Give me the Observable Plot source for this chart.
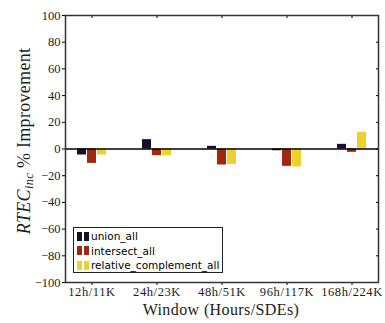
<!DOCTYPE html>
<html>
<head>
<meta charset="utf-8">
<script src="https://cdn.jsdelivr.net/npm/d3@7"></script>
<script src="https://cdn.jsdelivr.net/npm/@observablehq/plot@0.6"></script>
<style>
  html, body { margin: 0; padding: 0; background: #fff; }
  #chart { position: relative; width: 385px; height: 323px; }
  #chart svg, #chart svg text { font-family: "Liberation Serif", serif !important; }
  #chart svg text { fill: #1c1c1c; }
  #chart svg g[aria-label="x-axis tick label"] text { letter-spacing: 0.6px; }
  #legend {
    position: absolute; left: 73px; top: 227px; width: 150px; height: 46px;
    border: 1px solid #222; background: #fff; box-sizing: border-box;
    font: 10.5px "DejaVu Sans", sans-serif; color: #000; padding: 1px 0 0 3px;
  }
  #legend .row { display: flex; align-items: center; height: 14.5px; }
  #legend .sw { width: 5px; height: 9px; margin-right: 2px; }
</style>
</head>
<body>
<div id="chart"></div>
<script>
// Window sizes (hours / SDEs)
const windows = ["12h/11K", "24h/23K", "48h/51K", "96h/117K", "168h/224K"];
// Strategies compared
const series = ["union_all", "intersect_all", "relative_complement_all"];
// % improvement of RTEC_inc per window
const unionAll = [-4.5, 7, 2, -1.3, 3.5];
const intersectAll = [-10.8, -5, -12, -13, -2.5];
const relComplementAll = [-4.5, -5, -11.5, -13.5, 12.5];
const yTicks = [-100, -80, -60, -40, -20, 0, 20, 40, 60, 80, 100];

const colors = ["#15102e", "#a1280f", "#eed12d"];
const valuesBySeries = [unionAll, intersectAll, relComplementAll];

const data = series.flatMap((s, si) =>
  windows.map((w, wi) => ({window: w, series: s, value: valuesBySeries[si][wi]}))
);

// Side-by-side placement of the three bars within each window
const offsets = [-10, 0, 10];
const fmt = d => d < 0 ? "\u2212" + Math.abs(d) : String(d);

const plot = Plot.plot({
  width: 385,
  height: 323,
  marginLeft: 65,
  marginRight: 7,
  marginTop: 15,
  marginBottom: 41,
  style: {fontSize: "12.5px", color: "#000", background: "#fff"},
  x: {type: "band", domain: windows, paddingInner: 0.855, paddingOuter: 0.31, label: null},
  y: {domain: [-100, 100], ticks: yTicks, label: null},
  color: {domain: series, range: colors},
  marks: [
    ...series.map((s, i) =>
      Plot.barY(data.filter(d => d.series === s), {
        x: "window", y: "value", fill: colors[i], dx: offsets[i]
      })
    ),
    Plot.ruleY([0], {stroke: "#000", strokeWidth: 1.5}),
    Plot.axisX({tickSize: 3, tickPadding: 2, fontSize: 12.5, label: null}),
    Plot.axisY({ticks: yTicks, tickSize: 3, tickPadding: 2, tickFormat: fmt, fontSize: 12.5, label: null}),
    Plot.axisX({anchor: "top", tickSize: -2, tickFormat: () => "", label: null}),
    Plot.axisY({anchor: "right", ticks: yTicks, tickSize: -3, tickFormat: () => "", label: null}),
    Plot.frame({stroke: "#333", strokeWidth: 1.5})
  ]
});

document.getElementById("chart").appendChild(plot);

// Axis titles
const svg = d3.select(plot);
svg.append("text")
  .attr("x", 221).attr("y", 315)
  .attr("text-anchor", "middle")
  .style("font-size", "16px")
  .style("letter-spacing", "0.4px")
  .text("Window (Hours/SDEs)");

const yl = svg.append("text")
  .attr("transform", "translate(30,141) rotate(-90)")
  .attr("text-anchor", "middle")
  .style("font-size", "18px")
  .style("letter-spacing", "0.3px");
yl.append("tspan").style("font-style", "italic").text("RTEC");
yl.append("tspan").style("font-style", "italic").style("font-size", "12.5px").attr("dy", 3).text("inc");
yl.append("tspan").attr("dy", -3).text(" % Improvement");

// Legend
const legend = d3.select("#chart").append("div").attr("id", "legend");
series.forEach((s, i) => {
  const row = legend.append("div").attr("class", "row");
  row.append("div").attr("class", "sw").style("background", colors[i]);
  row.append("div").attr("class", "sw").style("background", colors[i]);
  row.append("span").text(s);
});
</script>
</body>
</html>
